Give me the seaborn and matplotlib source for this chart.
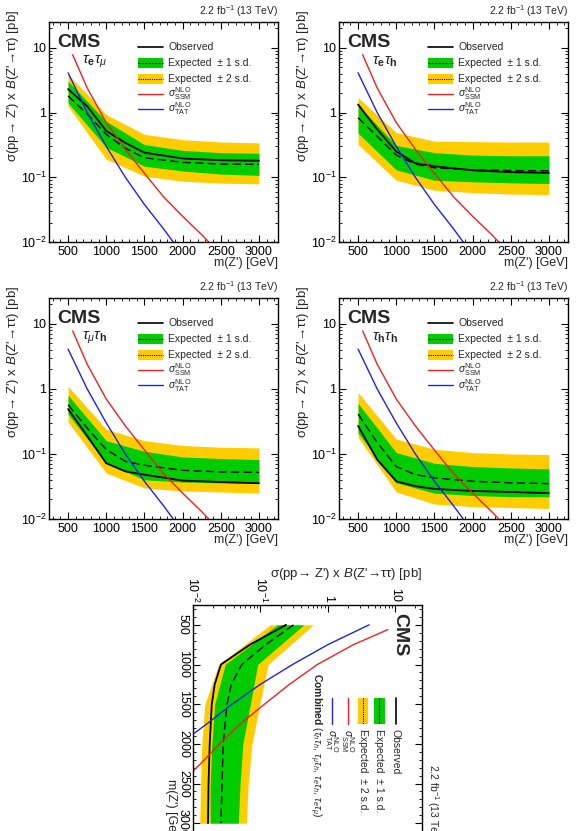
import matplotlib
matplotlib.use("Agg")
import matplotlib.pyplot as plt
import matplotlib.ticker as mticker
from matplotlib.patches import Rectangle
import numpy as np
import seaborn as sns

sns.set_style("ticks")
plt.rcParams["font.family"] = ["Liberation Sans", "DejaVu Sans"]
plt.rcParams["mathtext.fontset"] = "custom"
plt.rcParams["mathtext.rm"] = "Liberation Sans"
plt.rcParams["mathtext.it"] = "Liberation Sans:italic"
plt.rcParams["mathtext.bf"] = "Liberation Sans:bold"
plt.rcParams["axes.edgecolor"] = "black"

# ---- data (pb) ----
band_mass = [500, 1000, 1500, 2000, 2500, 3000]
line_mass = [500, 750, 1000, 1250, 1500, 2000, 2500, 3000]

# tau_e tau_mu
emu_obs = [2.3, 1.25, 0.52, 0.34, 0.24, 0.195, 0.183, 0.18]
emu_exp = [1.8, 0.95, 0.46, 0.28, 0.20, 0.17, 0.16, 0.158]
emu_lo1 = [1.4, 0.29, 0.148, 0.125, 0.112, 0.107]
emu_hi1 = [3.05, 0.73, 0.32, 0.26, 0.24, 0.235]
emu_lo2 = [1.25, 0.19, 0.104, 0.087, 0.081, 0.079]
emu_hi2 = [3.9, 0.93, 0.46, 0.38, 0.35, 0.34]

# tau_e tau_h
eh_obs = [1.33, 0.55, 0.25, 0.165, 0.148, 0.128, 0.12, 0.117]
eh_exp = [0.83, 0.43, 0.22, 0.16, 0.14, 0.13, 0.127, 0.126]
eh_lo1 = [0.48, 0.13, 0.09, 0.085, 0.082, 0.08]
eh_hi1 = [1.3, 0.31, 0.24, 0.22, 0.215, 0.215]
eh_lo2 = [0.32, 0.09, 0.063, 0.058, 0.055, 0.054]
eh_hi2 = [1.7, 0.49, 0.36, 0.355, 0.35, 0.35]

# tau_mu tau_h
muh_obs = [0.49, 0.19, 0.072, 0.054, 0.048, 0.039, 0.037, 0.0355]
muh_exp = [0.57, 0.25, 0.117, 0.077, 0.067, 0.056, 0.053, 0.052]
muh_lo1 = [0.41, 0.072, 0.04, 0.037, 0.036, 0.035]
muh_hi1 = [0.8, 0.16, 0.11, 0.09, 0.085, 0.082]
muh_lo2 = [0.31, 0.051, 0.03, 0.027, 0.026, 0.025]
muh_hi2 = [1.1, 0.24, 0.16, 0.135, 0.127, 0.124]

# tau_h tau_h
hh_obs = [0.27, 0.082, 0.038, 0.032, 0.029, 0.027, 0.026, 0.025]
hh_exp = [0.41, 0.15, 0.064, 0.048, 0.043, 0.038, 0.036, 0.035]
hh_lo1 = [0.21, 0.036, 0.025, 0.023, 0.022, 0.022]
hh_hi1 = [0.6, 0.105, 0.072, 0.064, 0.061, 0.059]
hh_lo2 = [0.18, 0.026, 0.017, 0.0155, 0.015, 0.0145]
hh_hi2 = [0.88, 0.17, 0.118, 0.105, 0.1, 0.098]

# combined
comb_obs = [0.24, 0.07, 0.026, 0.021, 0.019, 0.0177, 0.017, 0.0167]
comb_exp = [0.31, 0.12, 0.053, 0.037, 0.032, 0.028, 0.027, 0.026]
comb_lo1 = [0.178, 0.030, 0.021, 0.019, 0.018, 0.018]
comb_hi1 = [0.44, 0.091, 0.071, 0.055, 0.05, 0.047]
comb_lo2 = [0.14, 0.024, 0.015, 0.0135, 0.013, 0.0126]
comb_hi2 = [0.61, 0.13, 0.098, 0.075, 0.066, 0.062]

# theory curves
ssm_mass = [560, 750, 1000, 1250, 1500, 1750, 2000, 2250, 2350]
ssm_xsec = [7.8, 2.4, 0.7, 0.27, 0.115, 0.05, 0.025, 0.013, 0.0098]
tat_mass = [500, 750, 1000, 1250, 1500, 1750, 1900]
tat_xsec = [4.1, 1.0, 0.3, 0.1, 0.038, 0.016, 0.0092]

mass_ticks = [500, 1000, 1500, 2000, 2500, 3000]
mass_ticklabels = ["500", "1000", "1500", "2000", "2500", "3000"]
xsec_ticks = [0.01, 0.1, 1, 10]
xsec_ticklabels = [r"$10^{-2}$", r"$10^{-1}$", "1", "10"]

GREEN = "#00cc00"
YELLOW = "#ffcc00"
RED = "#f02020"
BLUE = "#2020f0"

W, H = 585, 831
fig = plt.figure(figsize=(W / 100, H / 100), dpi=100)


def rect_px(l, r, t, b):
    return [l / W, 1 - b / H, (r - l) / W, (b - t) / H]


def draw_panel(rect, obs, exp, lo1, hi1, lo2, hi2, tag, rot=False):
    ax = fig.add_axes(rect)
    if rot:
        ax.set_xscale("log")
        ax.set_xlim(0.01, 25)
        ax.set_ylim(3250, 250)
        ax.fill_betweenx(band_mass, lo2, hi2, color=YELLOW, lw=0)
        ax.fill_betweenx(band_mass, lo1, hi1, color=GREEN, lw=0)
    else:
        ax.set_yscale("log")
        ax.set_ylim(0.01, 25)
        ax.set_xlim(250, 3250)
        ax.fill_between(band_mass, lo2, hi2, color=YELLOW, lw=0)
        ax.fill_between(band_mass, lo1, hi1, color=GREEN, lw=0)

    def line(m, v, **kw):
        if rot:
            sns.lineplot(x=v, y=m, orient="y", sort=False, estimator=None, ax=ax, **kw)
        else:
            sns.lineplot(x=m, y=v, sort=False, estimator=None, ax=ax, **kw)

    line(line_mass, exp, color="black", lw=1.0, linestyle=(0, (6, 3)))
    line(line_mass, obs, color="black", lw=1.3)
    line(ssm_mass, ssm_xsec, color=RED, lw=1.0)
    line(tat_mass, tat_xsec, color=BLUE, lw=1.0)
    ax.set_xlabel("")
    ax.set_ylabel("")

    # axes / ticks
    log_axis, mass_axis = (ax.xaxis, ax.yaxis) if rot else (ax.yaxis, ax.xaxis)
    log_axis.set_major_locator(mticker.FixedLocator(xsec_ticks))
    log_axis.set_major_formatter(mticker.FixedFormatter(xsec_ticklabels))
    log_axis.set_minor_locator(mticker.LogLocator(base=10, subs=np.arange(2, 10)))
    log_axis.set_minor_formatter(mticker.NullFormatter())
    mass_axis.set_major_locator(mticker.FixedLocator(mass_ticks))
    mass_axis.set_major_formatter(mticker.FixedFormatter(mass_ticklabels))
    mass_axis.set_minor_locator(mticker.MultipleLocator(100))
    ax.tick_params(which="both", direction="in", top=True, right=True,
                   bottom=True, left=True, colors="black", labelsize=9)
    ax.tick_params(which="major", length=5, width=0.8)
    ax.tick_params(which="minor", length=2.5, width=0.6)
    if rot:
        ax.tick_params(axis="x", labeltop=True, labelbottom=False,
                       labelrotation=-90, pad=2)
        ax.tick_params(axis="y", labelrotation=-90, pad=3)
        for t in ax.yaxis.get_major_ticks():
            t.label1.set_va("center")
    else:
        ax.tick_params(axis="x", pad=3)
        ax.tick_params(axis="y", pad=2)
    for s in ax.spines.values():
        s.set_linewidth(1.0)
        s.set_color("black")

    # helpers in "upright" axes fraction (u along mass, v along xsec)
    def tr(u, v):
        return (v, 1 - u) if rot else (u, v)

    def put(u, v, s, ha="left", va="center", rotation=0, **kw):
        if rot:
            nva = {"left": "top", "right": "bottom", "center": "center"}[ha]
            nha = {"top": "right", "bottom": "left", "center": "center"}[va]
            x, y = tr(u, v)
            ax.text(x, y, s, rotation=rotation - 90, ha=nha, va=nva,
                    transform=ax.transAxes, **kw)
        else:
            ax.text(u, v, s, rotation=rotation, ha=ha, va=va,
                    transform=ax.transAxes, **kw)

    def hline(u0, u1, v, **kw):
        p0, p1 = tr(u0, v), tr(u1, v)
        ax.plot([p0[0], p1[0]], [p0[1], p1[1]], transform=ax.transAxes,
                clip_on=False, **kw)

    def box(u0, u1, v, h, color):
        if rot:
            r = Rectangle((v - h / 2, 1 - u1), h, u1 - u0, color=color,
                          transform=ax.transAxes, lw=0)
        else:
            r = Rectangle((u0, v - h / 2), u1 - u0, h, color=color,
                          transform=ax.transAxes, lw=0)
        ax.add_patch(r)

    # axis titles
    if rot:
        put(-0.13, 1.0, r"σ(pp→ Z') x $\mathit{B}$(Z'→ττ) [pb]", ha="center",
            va="top", rotation=90, fontsize=9.5)
    else:
        put(-0.157, 1.055, r"σ(pp→ Z') x $\mathit{B}$(Z'→ττ) [pb]", ha="center",
            va="top", rotation=90, fontsize=9.5)
    put(1.0, -0.068, "m(Z') [GeV]", ha="right", va="top", fontsize=9)
    put(1.0, 1.015, r"2.2 fb$^{-1}$ (13 TeV)", ha="right", va="bottom", fontsize=7.5)
    put(0.035, 0.905, "CMS", ha="left", va="center", fontsize=14, fontweight="bold")

    # legend
    rows = [0.886, 0.814, 0.741, 0.675, 0.605]
    u0, u1, ut = 0.389, 0.498, 0.52
    lfs = 7.5
    hline(u0, u1, rows[0], color="black", lw=1.2)
    put(ut, rows[0], "Observed", fontsize=lfs)
    box(u0, u1, rows[1], 0.045, GREEN)
    hline(u0, u1, rows[1], color="black", lw=0.8, linestyle=(0, (2, 1)))
    put(ut, rows[1], "Expected  ± 1 s.d.", fontsize=lfs)
    box(u0, u1, rows[2], 0.045, YELLOW)
    hline(u0, u1, rows[2], color="black", lw=0.8, linestyle=(0, (1, 1)))
    put(ut, rows[2], "Expected  ± 2 s.d.", fontsize=lfs)
    hline(u0, u1, rows[3], color=RED, lw=1.0)
    put(ut, rows[3], r"$\sigma^{\mathrm{NLO}}_{\mathrm{SSM}}$", fontsize=lfs)
    hline(u0, u1, rows[4], color=BLUE, lw=1.0)
    put(ut, rows[4], r"$\sigma^{\mathrm{NLO}}_{\mathrm{TAT}}$", fontsize=lfs)

    if rot:
        put(0.286, 0.533, tag, ha="left", va="center", fontsize=lfs)
    else:
        put(0.144, 0.82, tag, ha="left", va="center", fontsize=11)
    return ax


draw_panel(rect_px(49, 278, 22, 242), emu_obs, emu_exp, emu_lo1, emu_hi1,
           emu_lo2, emu_hi2, r"$\tau_{\mathbf{e}}\tau_{\mu}$")
draw_panel(rect_px(339, 568, 22, 242), eh_obs, eh_exp, eh_lo1, eh_hi1,
           eh_lo2, eh_hi2, r"$\tau_{\mathbf{e}}\tau_{\mathbf{h}}$")
draw_panel(rect_px(49, 278, 298, 519), muh_obs, muh_exp, muh_lo1, muh_hi1,
           muh_lo2, muh_hi2, r"$\tau_{\mu}\tau_{\mathbf{h}}$")
draw_panel(rect_px(339, 568, 298, 519), hh_obs, hh_exp, hh_lo1, hh_hi1,
           hh_lo2, hh_hi2, r"$\tau_{\mathbf{h}}\tau_{\mathbf{h}}$")
draw_panel(rect_px(193, 422, 605, 843), comb_obs, comb_exp, comb_lo1, comb_hi1,
           comb_lo2, comb_hi2,
           r"$\mathbf{Combined}$ ($\tau_{h}\tau_{h}$, $\tau_{\mu}\tau_{h}$, "
           r"$\tau_{e}\tau_{h}$, $\tau_{e}\tau_{\mu}$)", rot=True)

fig.savefig("out.png", dpi=100, facecolor="white")
